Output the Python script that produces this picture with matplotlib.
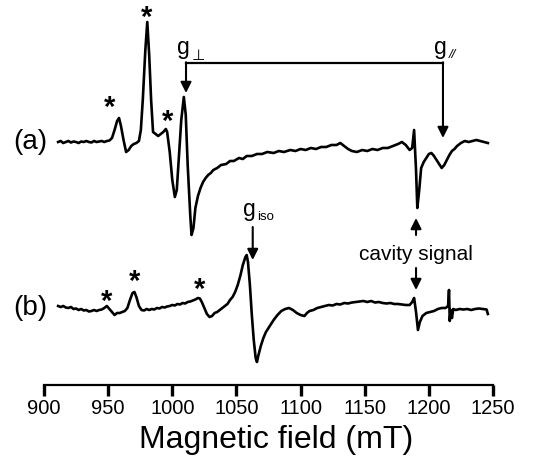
import matplotlib.pyplot as plt

plt.rcParams['font.family'] = ['Liberation Sans', 'DejaVu Sans']

# EPR spectra: field (mT) and signal (arb. units, baseline = 0)
field_a = [911, 913, 915, 917, 919, 921, 923, 925, 927, 929, 931, 933, 935, 937, 939, 941, 943, 945, 947, 949,
           951, 953, 955, 957, 958.5, 960, 962, 964, 966, 968, 970, 972, 974, 975.5, 977, 979, 980.5, 982, 983.5,
           985, 987, 989, 991, 993, 995, 996, 998, 1000, 1002, 1003.5, 1005, 1007, 1009, 1010.5, 1012, 1014,
           1015, 1016.5, 1018, 1020, 1022, 1024, 1026, 1028, 1030, 1032, 1035, 1038, 1042, 1045, 1048, 1052,
           1055, 1058, 1062, 1066, 1070, 1074, 1079, 1083, 1087, 1092, 1096, 1100, 1104, 1108, 1112, 1116,
           1120, 1124, 1128, 1131, 1134, 1137, 1140, 1144, 1148, 1152, 1156, 1160, 1164, 1168, 1172, 1176,
           1179, 1182, 1185, 1187, 1188.5, 1190, 1191, 1192.5, 1194, 1196, 1198, 1200, 1202, 1204, 1206, 1208,
           1210, 1212, 1214, 1216, 1218, 1220, 1222, 1225, 1228, 1231, 1234, 1237, 1240, 1243, 1246]
signal_a = [0, 1, -1, 0, 1, -0.5, 0.5, 0, -1, 0.5, 0, 1, 0, -0.5, 1, 0, 0.5, 1, 0, 1,
            1.5, 4, 12, 21, 24, 16, 2, -10, -8, -4, -2, -1, 1, 12, 42, 92, 120, 87, 42,
            10, 8, 6, 8, 10, 13, 10, -10, -38, -55, -48, -18, 22, 45, 27, -23, -73,
            -93, -86, -66, -54, -46, -40, -36, -33, -31, -28, -26, -23, -22, -19, -19, -16,
            -17, -14, -14, -12, -12, -10, -11, -9, -10, -8, -9, -7, -8, -6, -7, -5,
            -5, -3, -3, -1, -4, -7, -9, -10, -8, -9, -7, -8, -6, -6, -4, -2,
            0, -3, -8, -6, 12, -28, -66, -48, -26, -20, -16, -12, -11, -14, -18, -22,
            -26, -23, -18, -13, -9, -7, -4, -1, 1, 0, 1, 2, 1, 0, -1]

field_b = [911, 913, 915, 917, 919, 921, 923, 925, 927, 929, 931, 933, 935, 937, 939, 941, 943, 945, 947, 949,
           951, 953, 955, 957, 959, 961, 963, 965, 967, 969, 970.5, 972, 974, 976, 978, 980, 982, 984, 986,
           988, 990, 992, 994, 996, 998, 1000, 1002, 1004, 1006, 1008, 1010, 1012, 1014, 1016, 1018, 1020,
           1021.5, 1023, 1025, 1027, 1029, 1031, 1033, 1035, 1037, 1039, 1041, 1043, 1045, 1047, 1049, 1051,
           1053, 1055, 1057, 1058, 1059, 1060.5, 1062, 1063.5, 1065, 1066, 1067, 1069, 1071, 1073, 1076, 1079,
           1082, 1085, 1088, 1091, 1094, 1097, 1100, 1103, 1105, 1107, 1110, 1113, 1116, 1119, 1122, 1125,
           1128, 1131, 1134, 1137, 1140, 1143, 1146, 1149, 1152, 1155, 1158, 1161, 1164, 1167, 1170, 1173,
           1176, 1179, 1182, 1185, 1187, 1188.5, 1190, 1191.5, 1193, 1195, 1198, 1201, 1204, 1207, 1210, 1213,
           1215, 1215.7, 1216.3, 1217, 1218, 1219, 1221, 1224, 1227, 1230, 1233, 1236, 1239, 1242, 1245, 1246]
signal_b = [2, 1, 2, 0.5, 0, 1, -1, -0.5, -2, -1, -2.5, -2, -3.5, -3, -2, -3, -2, -1.5, 0, 2,
            -1, -4, -7, -5, -5, -4, -3, 0, 8, 15, 16, 11, 2, -2, -2.5, -1, -2, -1, -1.5,
            0, -0.5, 1, 0.5, 1.5, 2, 3, 2.5, 4, 3.5, 5, 4.5, 6, 6.5, 7.5, 8.5, 10,
            9.5, 6, 0, -6, -9, -8, -5, -4, -2, 0, 2, 4, 8, 11, 16, 23,
            32, 43, 51, 53, 46, 23, -7, -32, -50, -54, -48, -38, -30, -24, -18, -12,
            -7, -3, -1, 0, -2, -5, -7, -8, -5, -3, -2, 0, 1, 2, 3, 2.5,
            4, 3.5, 5, 4.5, 5.5, 6, 6.5, 7, 6, 7, 5.5, 6, 5, 4.5, 5, 4,
            4, 3.5, 3, 3, 6, 10, -4, -22, -14, -8, -5, -4, -3, -1, 0, 0,
            2, 18, -13, -2, -10, -1, -2, -1, -1.5, -1, -2, -1, -0.5, -1, -1.5, -6]

xticks = [900, 950, 1000, 1050, 1100, 1150, 1200, 1250]

g_perp = 1010.7
g_par = 1211
g_iso = 1062.7
cavity = 1190

off_a = 243
off_b = 77

fig = plt.figure(figsize=(5.33, 4.74), dpi=100)
ax = fig.add_axes([44 / 533, 89 / 474, 449 / 533, 385 / 474])

ax.plot(field_a, [s + off_a for s in signal_a], color='black', lw=1.9)
ax.plot(field_b, [s + off_b for s in signal_b], color='black', lw=1.9)

ax.set_xlim(900, 1250)
ax.set_ylim(0, 385)
for side in ['top', 'right', 'left']:
    ax.spines[side].set_visible(False)
ax.spines['bottom'].set_linewidth(1.6)
ax.set_yticks([])
ax.set_xticks(xticks)
ax.tick_params(axis='x', direction='out', length=8, width=2.4, pad=2, labelsize=14.5)
ax.set_xlabel('Magnetic field (mT)', fontsize=23)
ax.xaxis.set_label_coords(0.517, -0.105)

# trace labels
ax.text(889, off_a, '(a)', fontsize=20, ha='center', va='center')
ax.text(889, off_b, '(b)', fontsize=20, ha='center', va='center')

# impurity asterisks
stars = [(951.4, 277), (980.3, 367), (996.6, 263), (948.9, 83), (970.9, 103), (1021.6, 95)]
for sx, sy in stars:
    ax.text(sx, sy, '*', fontsize=21, fontweight='bold', ha='center', va='center')

# g bracket
arrow = dict(arrowstyle='-|>', lw=1.5, color='black', shrinkA=0, shrinkB=0, mutation_scale=16)
ax.plot([g_perp, g_par], [322, 322], color='black', lw=1.6)
ax.annotate('', xy=(g_perp, 292), xytext=(g_perp, 322.7), arrowprops=arrow)
ax.annotate('', xy=(g_par, 247), xytext=(g_par, 322.7), arrowprops=arrow)
ax.text(1004.0, 331, 'g', fontsize=16.5, ha='left', va='baseline')
ax.text(1015.5, 325, '⊥', fontsize=11, ha='left', va='baseline')
ax.text(1204.3, 331, 'g', fontsize=16.5, ha='left', va='baseline')
ax.text(1215.5, 327, '//', fontsize=9.5, ha='left', va='baseline', style='italic')

# g_iso
ax.annotate('', xy=(g_iso, 125), xytext=(g_iso, 158), arrowprops=arrow)
ax.text(1054.8, 169, 'g', fontsize=16.5, ha='left', va='baseline')
ax.text(1066.5, 165, 'iso', fontsize=9.5, ha='left', va='baseline')

# cavity signal
ax.annotate('', xy=(cavity, 167), xytext=(cavity, 150), arrowprops=arrow)
ax.annotate('', xy=(cavity, 95), xytext=(cavity, 117), arrowprops=arrow)
ax.text(cavity, 130, 'cavity signal', fontsize=15, ha='center', va='center')

fig.savefig('out.png', dpi=100)
